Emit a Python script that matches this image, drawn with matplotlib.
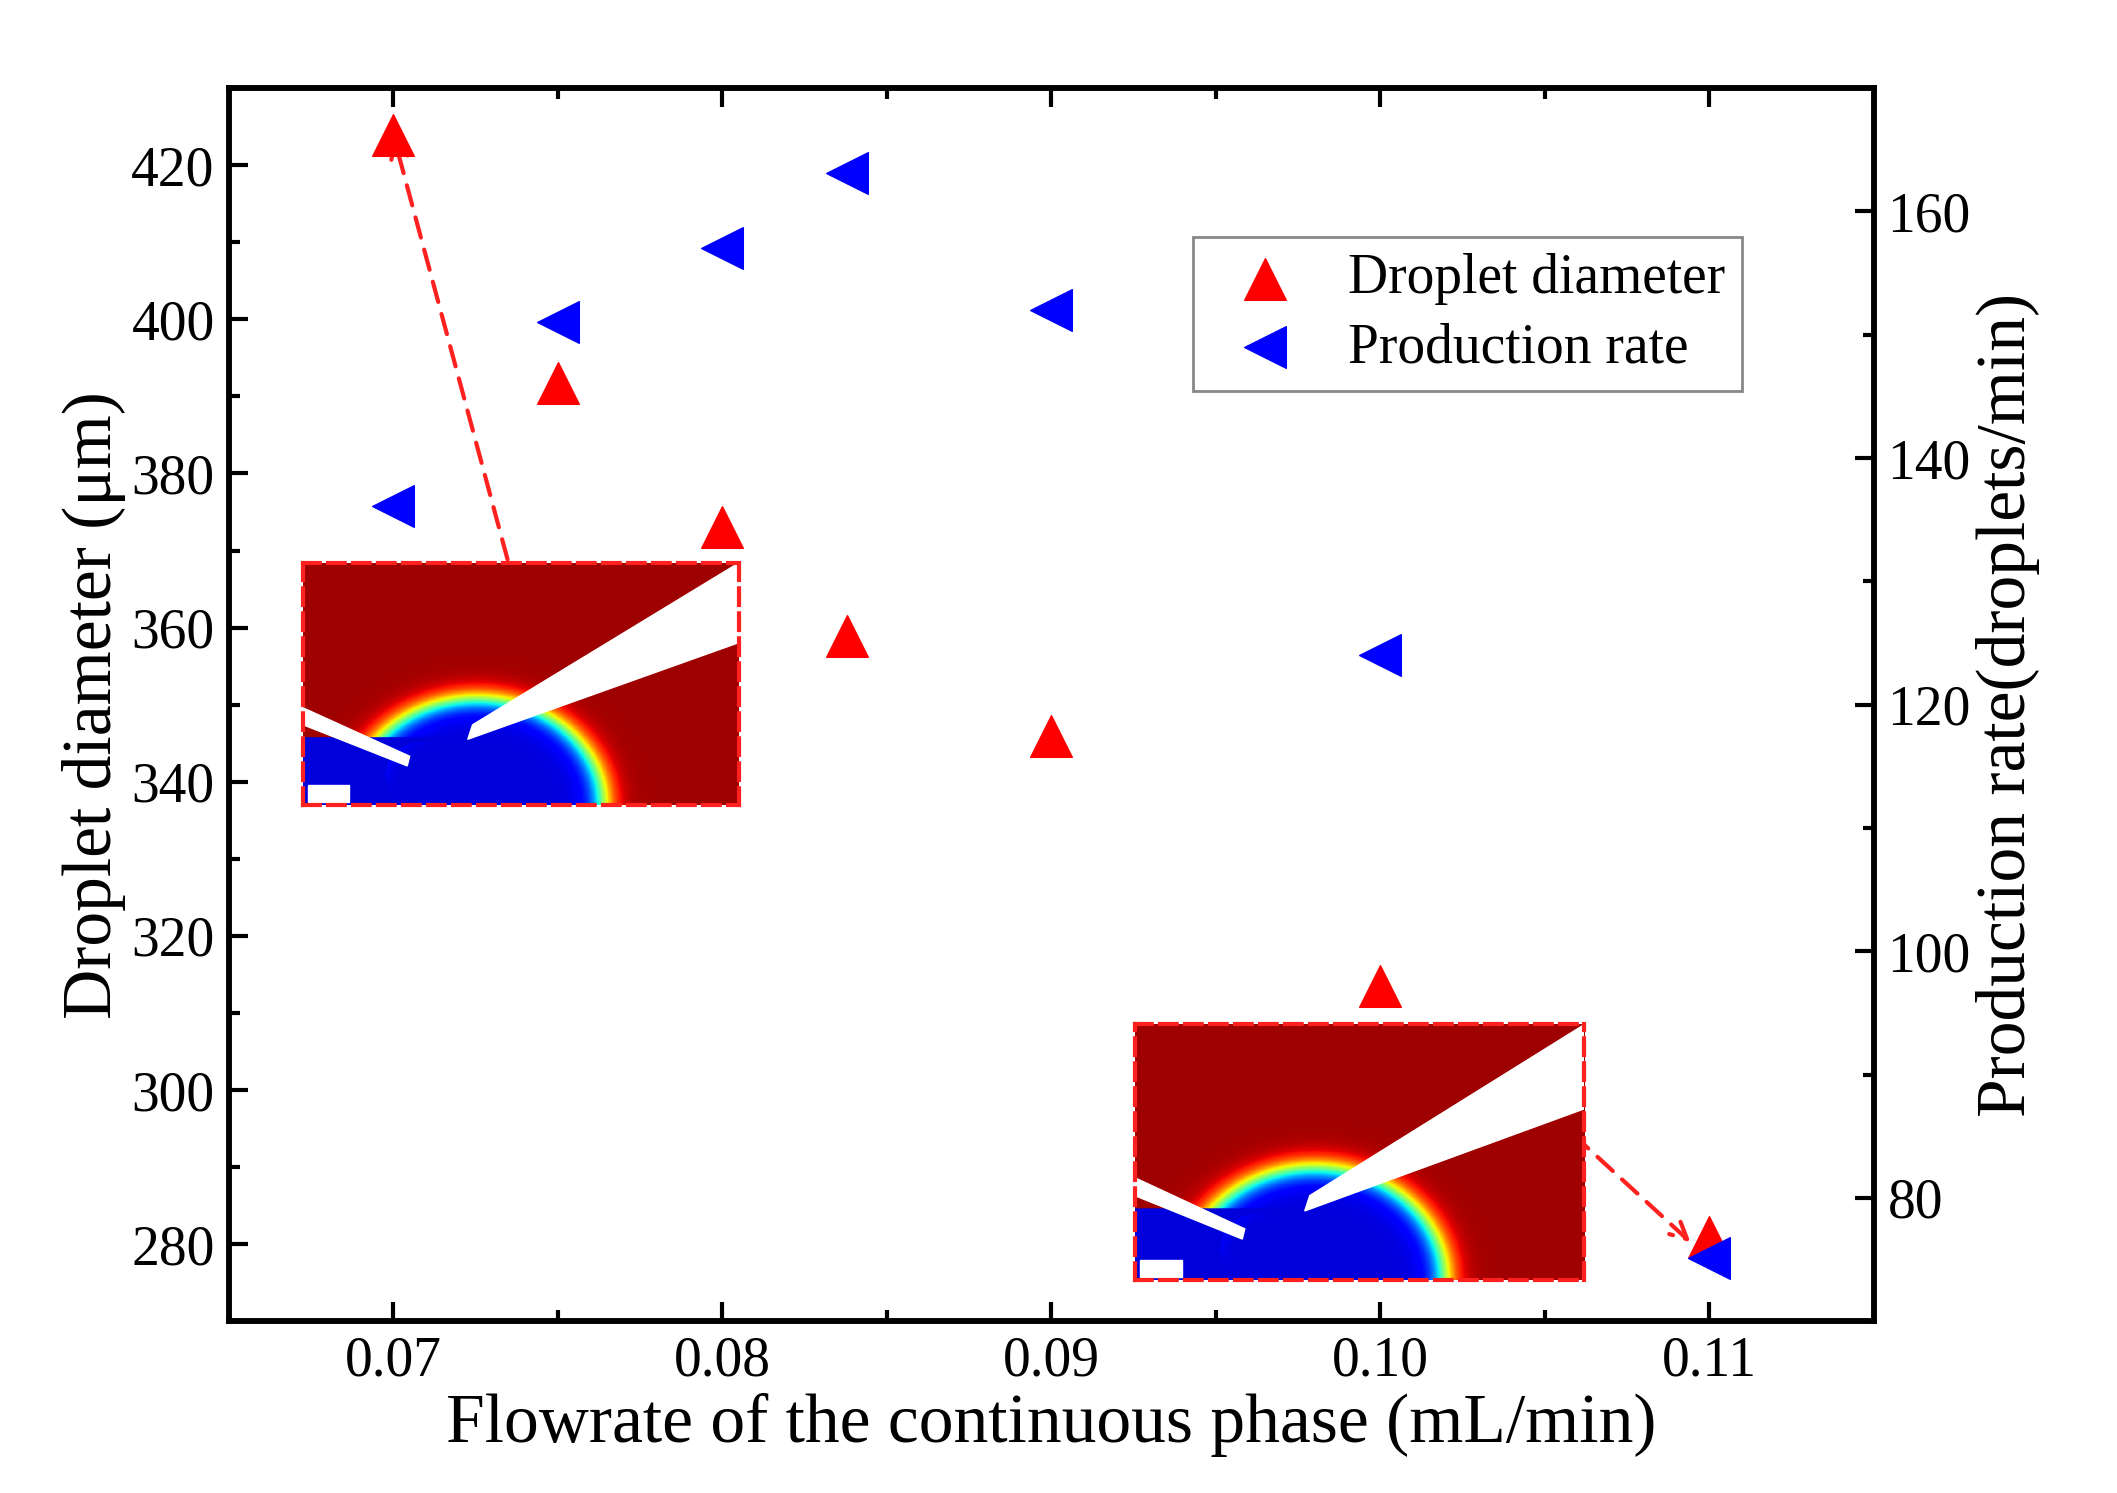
import matplotlib.pyplot as plt
import numpy as np
from matplotlib.patches import Polygon, Rectangle
from matplotlib.ticker import MultipleLocator

plt.rcParams['font.family'] = 'Liberation Serif'

flow = [0.07, 0.075, 0.08, 0.0838, 0.09, 0.10, 0.11]
diameter = [423.9, 391.7, 373.1, 358.9, 346.0, 313.5, 281.0]
rate = [136.1, 151.0, 157.0, 163.1, 152.0, 124.0, 75.1]

fig = plt.figure(figsize=(21.17, 14.93), dpi=100)
ax = fig.add_axes([0.108, 0.115, 0.777, 0.826])
ax2 = ax.twinx()

h1 = ax.scatter(flow, diameter, marker='^', s=900, color='#ff0000', zorder=5, label='Droplet diameter')
h2 = ax2.scatter(flow, rate, marker='<', s=900, color='#0000ff', zorder=5, label='Production rate')

ax.set_xlim(0.065, 0.115)
ax.set_ylim(270, 430)
ax2.set_ylim(70, 170)
ax.set_xticks([0.07, 0.08, 0.09, 0.10, 0.11])
ax.set_xticklabels(['0.07', '0.08', '0.09', '0.10', '0.11'])
ax.xaxis.set_minor_locator(MultipleLocator(0.005))
ax.yaxis.set_major_locator(MultipleLocator(20))
ax.yaxis.set_minor_locator(MultipleLocator(10))
ax2.yaxis.set_major_locator(MultipleLocator(20))
ax2.yaxis.set_minor_locator(MultipleLocator(10))
for a in (ax, ax2):
    for s in a.spines.values():
        s.set_linewidth(4)
    a.tick_params(which='major', direction='in', length=14, width=3, labelsize=40, pad=10)
    a.tick_params(which='minor', direction='in', length=8, width=3)
ax.tick_params(which='both', top=True)
ax.set_xlabel('Flowrate of the continuous phase (mL/min)', fontsize=50, labelpad=4)
ax.set_ylabel('Droplet diameter (μm)', fontsize=50)
ax2.set_ylabel('Production rate(droplets/min)', fontsize=50)

leg = ax2.legend([h1, h2], ['Droplet diameter', 'Production rate'], loc='upper right',
                 bbox_to_anchor=(0.937, 0.902), fontsize=40, fancybox=False,
                 edgecolor='#888888', handletextpad=0.5, markerscale=1.0, framealpha=1,
                 borderpad=0.3, labelspacing=0.3)
leg.get_frame().set_linewidth(2)

# simulation snapshot insets
yy, xx = np.mgrid[0:1:200j, 0:1.8:360j]
r = np.hypot((xx - 0.72) / 0.52, yy / 0.44)
field = 1 / (1 + np.exp(-(r - 1.0) / 0.06))
r2 = np.hypot((xx - 0.5) / 0.16, (yy - 0.12) / 0.14)
field = np.where(r2 < 1, np.minimum(field, 0.7 * (1 - 1 / (1 + np.exp(-(r2 - 0.85) / 0.05)))**0 * np.clip((r2 - 0.6) * 2.5, 0, 1) * 0.0 + field * 0.0 + np.clip((r2 - 0.75) * 3, 0, 0.75), ), field)
field = np.where((xx < 0.69) & (yy < 0.28) & (r2 >= 1), 0.0, field)
field = np.clip(0.08 + 0.89 * field, 0, 1)

def inset(rect):
    ia = fig.add_axes(rect)
    ia.imshow(field, cmap='jet', origin='lower', extent=[0, 1.8, 0, 1], aspect='auto', vmin=0, vmax=1)
    ia.add_patch(Polygon([[0, 0.4], [0, 0.33], [0.43, 0.16], [0.44, 0.2]], color='white'))
    ia.add_patch(Polygon([[0.7, 0.33], [1.8, 1.0], [1.8, 0.67], [0.68, 0.27]], color='white'))
    ia.add_patch(Rectangle((0.02, 0.01), 0.17, 0.07, color='white'))
    ia.set_xlim(0, 1.8)
    ia.set_ylim(0, 1)
    ia.set_xticks([])
    ia.set_yticks([])
    for s in ia.spines.values():
        s.set_edgecolor('#ff2020')
        s.set_linestyle((0, (4, 2)))
        s.set_linewidth(3)
    return ia

inset([0.1432, 0.4611, 0.2058, 0.1619])
inset([0.5361, 0.1427, 0.2123, 0.1711])

ax.annotate('', xy=(0.07, 424), xytext=(0.0735, 368.5),
            arrowprops=dict(arrowstyle='->', color='#ff2020', lw=3, linestyle=(0, (5, 3)), mutation_scale=30))
ax.annotate('', xy=(0.1095, 280), xytext=(0.1058, 294.5),
            arrowprops=dict(arrowstyle='->', color='#ff2020', lw=3, linestyle=(0, (5, 3)), mutation_scale=30))

fig.savefig('out.png', dpi=100)
